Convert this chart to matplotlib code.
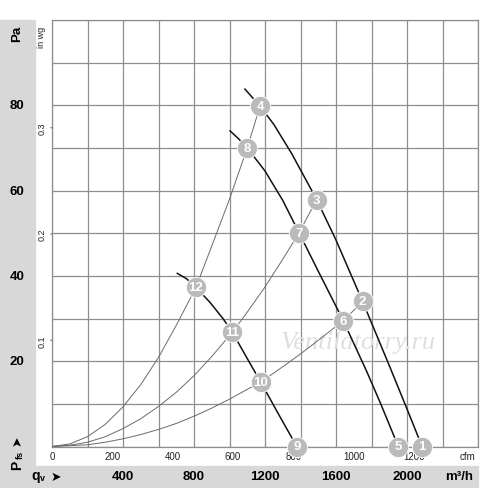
import matplotlib.pyplot as plt
from matplotlib.patches import Rectangle

plt.rcParams['font.family'] = ['Liberation Sans', 'DejaVu Sans']

# fan curves (qv in m3/h, pfs in Pa)
fan_a_q = [1087, 1172, 1250, 1350, 1491, 1600, 1750, 1900, 2000, 2085]
fan_a_p = [83.8, 79.8, 75.5, 68.7, 57.9, 48.4, 34.0, 19.0, 8.8, 0]
fan_b_q = [1003, 1050, 1100, 1200, 1300, 1392, 1500, 1641, 1773, 1850, 1951]
fan_b_p = [74.0, 72.2, 70.0, 64.6, 57.7, 50.1, 41.1, 29.5, 17.6, 10.2, 0]
fan_c_q = [706, 759, 811, 890, 965, 1016, 1069, 1125, 1176, 1280, 1379]
fan_c_p = [40.6, 39.3, 37.3, 33.8, 29.9, 26.8, 22.9, 18.8, 15.1, 7.3, 0]

# system curves
sys_hi_q = [0, 100, 200, 300, 400, 500, 600, 700, 811, 900, 1000, 1100, 1172]
sys_hi_p = [0, 0.6, 2.3, 5.2, 9.3, 14.5, 20.9, 28.4, 37.3, 47.0, 58.0, 70.0, 79.8]
sys_mid_q = [0, 100, 200, 300, 400, 500, 600, 700, 800, 900, 1016, 1100, 1200,
             1300, 1392, 1491]
sys_mid_p = [0, 0.3, 1.0, 2.3, 4.2, 6.5, 9.4, 12.7, 16.6, 21.1, 26.8, 31.5, 37.4,
             43.9, 50.1, 57.9]
sys_lo_q = [0, 200, 300, 400, 500, 600, 700, 800, 900, 1000, 1100, 1176, 1300,
            1400, 1500, 1641, 1750]
sys_lo_p = [0, 0.4, 1.0, 1.8, 2.8, 4.0, 5.4, 7.1, 9.0, 11.1, 13.4, 15.1, 18.7,
            21.7, 24.9, 29.5, 34.0]

# numbered operating points
point_labels = ['1', '2', '3', '4', '5', '6', '7', '8', '9', '10', '11', '12']
point_q = [2085, 1750, 1491, 1172, 1951, 1641, 1392, 1100, 1379, 1176, 1016, 811]
point_p = [0, 34.0, 57.9, 79.8, 0, 29.5, 50.1, 70.0, 0, 15.1, 26.8, 37.3]

m3h_ticks = [400, 800, 1200, 1600, 2000]
cfm_ticks = [0, 200, 400, 600, 800, 1000, 1200]
pa_ticks = [20, 40, 60, 80]
inwg_ticks = [0.1, 0.2, 0.3]

CFM = 1.699   # m3/h per cfm
INWG = 249.09  # Pa per in wg

fig = plt.figure(figsize=(5, 4.89), dpi=100)

# grey label bands
band = '#d8d8d8'
fig.patches.append(Rectangle((0, 1 - 488 / 489), 35 / 500, (488 - 21) / 489,
                             transform=fig.transFigure, color=band, zorder=-2))
fig.patches.append(Rectangle((0, 1 - 488 / 489), 478 / 500, 21 / 489,
                             transform=fig.transFigure, color=band, zorder=-2))

ax = fig.add_axes([52 / 500, 41.5 / 489, 426 / 500, 426.5 / 489])
ax.set_zorder(1)
ax.set_xlim(0, 2400)
ax.set_ylim(0, 100)
ax.set_xticks(range(0, 2401, 200))
ax.set_yticks(range(0, 101, 10))
ax.grid(True, color='#8e8e8e', lw=0.9)
ax.tick_params(length=0, labelbottom=False, labelleft=False)
for s in ax.spines.values():
    s.set_color('#8e8e8e')
    s.set_linewidth(0.9)

# curves
for q, p in [(sys_hi_q, sys_hi_p), (sys_mid_q, sys_mid_p), (sys_lo_q, sys_lo_p)]:
    ax.plot(q, p, color='#6a6a6a', lw=0.7, zorder=3)
for q, p in [(fan_a_q, fan_a_p), (fan_b_q, fan_b_p), (fan_c_q, fan_c_p)]:
    ax.plot(q, p, color='#111111', lw=1.1, zorder=4)

ax.text(1724, 24.4, 'Ventilatorry.ru', fontsize=19, style='italic',
        family='Liberation Serif', color='#dedede', ha='center', va='center', zorder=2)

for lab, q, p in zip(point_labels, point_q, point_p):
    ax.plot(q, p, 'o', ms=14.5, color='#bababa', mec='white', mew=0.6,
            clip_on=False, zorder=5)
    ax.text(q, p, lab, color='white', fontsize=9.5, fontweight='bold',
            ha='center', va='center', zorder=6, clip_on=False)

# axis labels
for t in m3h_ticks:
    ax.annotate(str(t), xy=(t, 0), xycoords=('data', 'axes fraction'),
                xytext=(0, -29.5), textcoords='offset pixels',
                ha='center', va='center', fontsize=9.5, fontweight='bold')
for t in cfm_ticks:
    ax.annotate(str(t), xy=(t * CFM, 0), xycoords=('data', 'axes fraction'),
                xytext=(0, -10), textcoords='offset pixels',
                ha='center', va='center', fontsize=7, color='#222222')
for t in pa_ticks:
    ax.annotate(str(t), xy=(0, t), xycoords=('axes fraction', 'data'),
                xytext=(-35, 0), textcoords='offset pixels',
                ha='center', va='center', fontsize=9.5, fontweight='bold')
for t in inwg_ticks:
    ax.annotate(str(t), xy=(0, t * INWG), xycoords=('axes fraction', 'data'),
                xytext=(-10, 0), textcoords='offset pixels', rotation=90,
                ha='center', va='center', fontsize=6.5, color='#222222')
    ax.annotate('', xy=(0, t * INWG), xycoords=('axes fraction', 'data'),
                xytext=(-4, 0), textcoords='offset pixels',
                arrowprops=dict(arrowstyle='-', color='#555555', lw=0.7))

W, H = 500, 489
fig.text(17 / W, 1 - 34 / H, 'Pa', rotation=90, ha='center', va='center',
         fontsize=9.5, fontweight='bold')
fig.text(42 / W, 1 - 37 / H, 'in wg', rotation=90, ha='center', va='center',
         fontsize=6.5, color='#222222')
fig.text(468 / W, 1 - 457 / H, 'cfm', ha='center', va='center', fontsize=7,
         color='#222222')
fig.text(459 / W, 1 - 477 / H, 'm³/h', ha='center', va='center', fontsize=9.5,
         fontweight='bold')
fig.text(36 / W, 1 - 476 / H, 'q', ha='center', va='center', fontsize=10,
         fontweight='bold')
fig.text(42 / W, 1 - 479 / H, 'v', ha='center', va='center', fontsize=6.5,
         fontweight='bold')
fig.text(56 / W, 1 - 477 / H, '➤', ha='center', va='center', fontsize=9,
         family='DejaVu Sans')
fig.text(17 / W, 1 - 465 / H, 'P', rotation=90, ha='center', va='center',
         fontsize=10, fontweight='bold')
fig.text(20 / W, 1 - 455 / H, 'fs', rotation=90, ha='center', va='center',
         fontsize=6.5, fontweight='bold')
fig.text(17 / W, 1 - 441 / H, '➤', rotation=90, ha='center', va='center',
         fontsize=9, family='DejaVu Sans')

fig.savefig('out.png', dpi=100)
